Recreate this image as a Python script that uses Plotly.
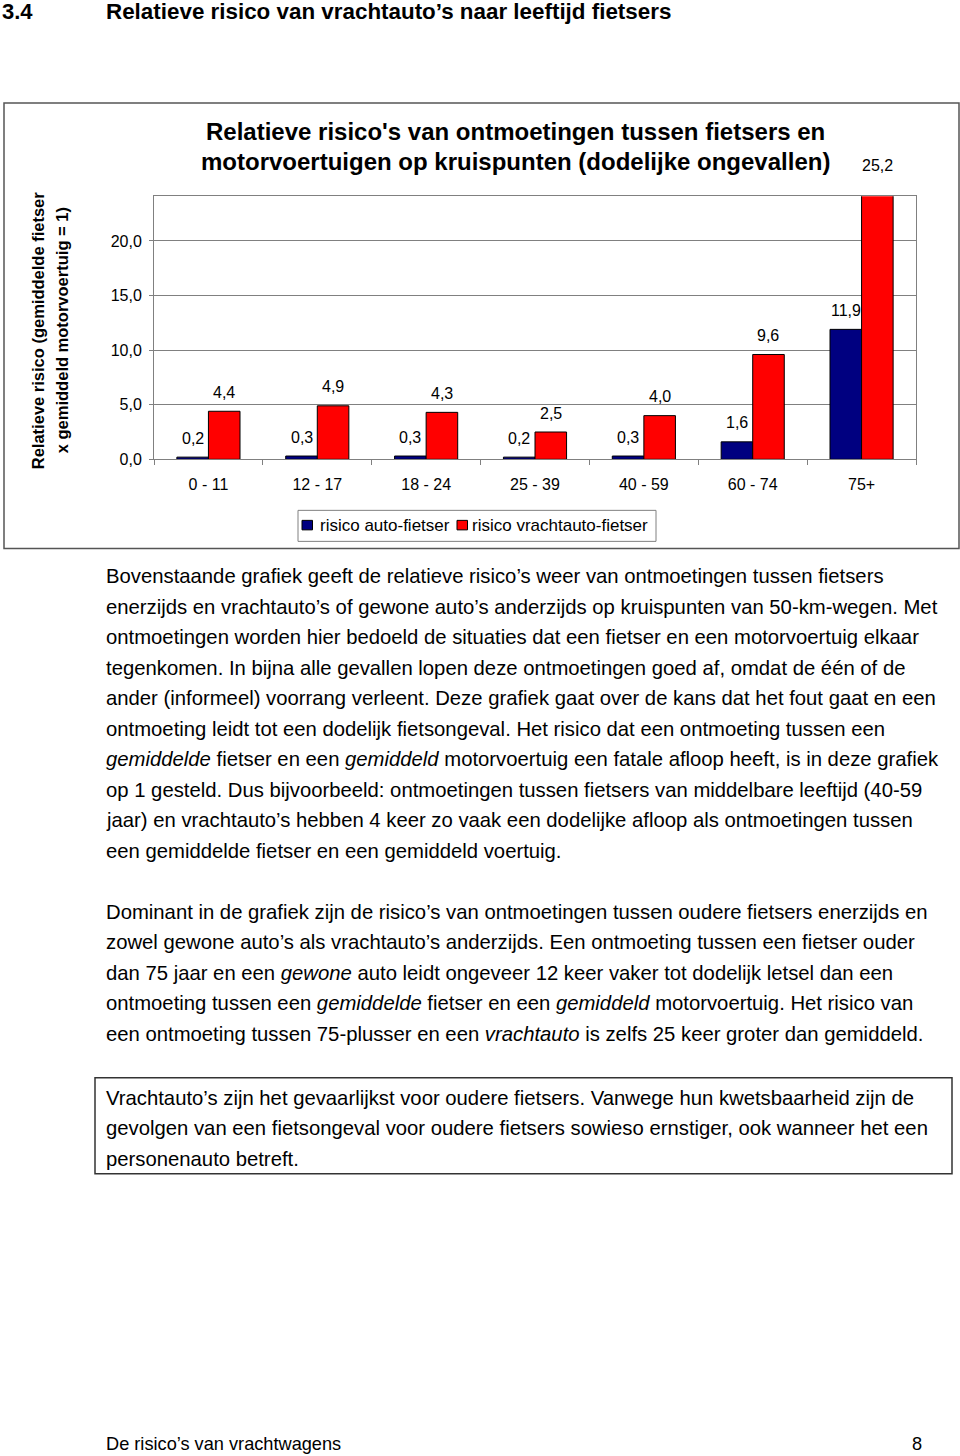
import plotly.graph_objects as go

# ---------------- data ----------------
categories = ["0 - 11", "12 - 17", "18 - 24", "25 - 39", "40 - 59", "60 - 74", "75+"]
risico_auto = [0.2, 0.3, 0.3, 0.2, 0.3, 1.6, 11.9]
risico_vracht = [4.4, 4.9, 4.3, 2.5, 4.0, 9.6, 25.2]
series_names = ["risico auto-fietser", "risico vrachtauto-fietser"]
series_colors = ["#000080", "#FF0000"]
y_tickvals = [0, 5, 10, 15, 20]

heading_num = "3.4"
heading_text = "Relatieve risico van vrachtauto’s naar leeftijd fietsers"
chart_title = ["Relatieve risico's van ontmoetingen tussen fietsers en",
               "motorvoertuigen op kruispunten (dodelijke ongevallen)"]
y_title = ["Relatieve risico (gemiddelde fietser", "x gemiddeld motorvoertuig = 1)"]

para1 = [
    "Bovenstaande grafiek geeft de relatieve risico’s weer van ontmoetingen tussen fietsers",
    "enerzijds en vrachtauto’s of gewone auto’s anderzijds op kruispunten van 50-km-wegen. Met",
    "ontmoetingen worden hier bedoeld de situaties dat een fietser en een motorvoertuig elkaar",
    "tegenkomen. In bijna alle gevallen lopen deze ontmoetingen goed af, omdat de één of de",
    "ander (informeel) voorrang verleent. Deze grafiek gaat over de kans dat het fout gaat en een",
    "ontmoeting leidt tot een dodelijk fietsongeval. Het risico dat een ontmoeting tussen een",
    "<i>gemiddelde</i> fietser en een <i>gemiddeld</i> motorvoertuig een fatale afloop heeft, is in deze grafiek",
    "op 1 gesteld. Dus bijvoorbeeld: ontmoetingen tussen fietsers van middelbare leeftijd (40-59",
    "jaar) en vrachtauto’s hebben 4 keer zo vaak een dodelijke afloop als ontmoetingen tussen",
    "een gemiddelde fietser en een gemiddeld voertuig.",
]
para2 = [
    "Dominant in de grafiek zijn de risico’s van ontmoetingen tussen oudere fietsers enerzijds en",
    "zowel gewone auto’s als vrachtauto’s anderzijds. Een ontmoeting tussen een fietser ouder",
    "dan 75 jaar en een <i>gewone</i> auto leidt ongeveer 12 keer vaker tot dodelijk letsel dan een",
    "ontmoeting tussen een <i>gemiddelde</i> fietser en een <i>gemiddeld</i> motorvoertuig. Het risico van",
    "een ontmoeting tussen 75-plusser en een <i>vrachtauto</i> is zelfs 25 keer groter dan gemiddeld.",
]
para3 = [
    "Vrachtauto’s zijn het gevaarlijkst voor oudere fietsers. Vanwege hun kwetsbaarheid zijn de",
    "gevolgen van een fietsongeval voor oudere fietsers sowieso ernstiger, ook wanneer het een",
    "personenauto betreft.",
]
footer_left = "De risico’s van vrachtwagens"
footer_right = "8"

# ---------------- layout constants ----------------
W, H = 960, 1456
H_PAPER = 1446          # effective rendered height used for paper positions
def px(x): return x / W
def py(y): return 1 - y / H_PAPER

FONT = "Liberation Sans, Arial, sans-serif"
PL, PR, PT, PB = 154, 916, 196, 459
Y2_TOP = 110            # taller helper axis (same scale) so labels above the range stay visible
YMAX = 24.1
BARGAP = 0.42
GRID = "#808080"
BODY = 20.3

fig = go.Figure()
for name, vals, col in zip(series_names, (risico_auto, risico_vracht), series_colors):
    fig.add_bar(x=categories, y=vals, name=name,
                marker=dict(color=col, line=dict(color="black", width=1)))

annotations = []
shapes = []
cat_w = (PR - PL) / len(categories)
half_bar = cat_w * (1 - BARGAP) / 4
for vals, sh in ((risico_auto, -half_bar), (risico_vracht, half_bar)):
    for c, v in zip(categories, vals):
        annotations.append(dict(x=c, y=v, xref="x", yref="y2", xshift=sh, yshift=19,
                                text=f"{v:.1f}".replace(".", ","), showarrow=False,
                                font=dict(family=FONT, size=16, color="black")))

# chart title
for i, t in enumerate(chart_title):
    annotations.append(dict(x=px(515), y=py(131 + i * 30.5), xref="paper", yref="paper",
                            text=f"<b>{t}</b>", showarrow=False, xanchor="center", yanchor="middle",
                            font=dict(family=FONT, size=24, color="black")))
# y-axis title (two rotated lines)
for i, t in enumerate(y_title):
    annotations.append(dict(x=px(38 + i * 24), y=py(330), xref="paper", yref="paper",
                            text=f"<b>{t}</b>", showarrow=False, textangle=-90,
                            xanchor="center", yanchor="middle",
                            font=dict(family=FONT, size=16.5, color="black")))
# legend (drawn as a boxed key below the chart)
LEG_X = [302, 457]
LEG_TX = [318, 470]
shapes.append(dict(type="rect", xref="paper", yref="paper", x0=px(298), x1=px(656),
                   y0=py(541), y1=py(510), line=dict(color=GRID, width=1), fillcolor="white"))
for name, col, sx, tx in zip(series_names, series_colors, LEG_X, LEG_TX):
    shapes.append(dict(type="rect", xref="paper", yref="paper", x0=px(sx), x1=px(sx + 10.5),
                       y0=py(529.5), y1=py(520), line=dict(color="black", width=1), fillcolor=col))
    annotations.append(dict(x=px(tx), y=py(525), xref="paper", yref="paper", text=name,
                            showarrow=False, xanchor="left", yanchor="middle",
                            font=dict(family=FONT, size=17, color="black")))

# page heading
annotations.append(dict(x=px(0), y=py(11.5), xref="paper", yref="paper", text=f"<b>{heading_num}</b>",
                        showarrow=False, xanchor="left", yanchor="middle",
                        font=dict(family=FONT, size=22, color="black")))
annotations.append(dict(x=px(104), y=py(11.5), xref="paper", yref="paper", text=f"<b>{heading_text}</b>",
                        showarrow=False, xanchor="left", yanchor="middle",
                        font=dict(family=FONT, size=22.4, color="black")))

def add_lines(lines, y0, step=30.45):
    for i, t in enumerate(lines):
        annotations.append(dict(x=px(104), y=py(y0 + i * step), xref="paper", yref="paper",
                                text=t, showarrow=False, xanchor="left", yanchor="middle",
                                font=dict(family=FONT, size=BODY, color="black")))

add_lines(para1, 576)
add_lines(para2, 911)
add_lines(para3, 1097)
annotations.append(dict(x=px(104), y=py(1443), xref="paper", yref="paper", text=footer_left,
                        showarrow=False, xanchor="left", yanchor="middle",
                        font=dict(family=FONT, size=18.2, color="black")))
annotations.append(dict(x=px(924), y=py(1443), xref="paper", yref="paper", text=footer_right,
                        showarrow=False, xanchor="right", yanchor="middle",
                        font=dict(family=FONT, size=18.2, color="black")))

shapes += [
    dict(type="rect", xref="paper", yref="paper", x0=px(4), x1=px(959), y0=py(548), y1=py(103),
         line=dict(color="#555555", width=1.5), layer="below"),
    dict(type="rect", xref="paper", yref="paper", x0=px(95), x1=px(952), y0=py(1173), y1=py(1077),
         line=dict(color="#333333", width=1.5)),
]

fig.update_layout(
    width=W, height=H, autosize=False,
    margin=dict(l=0, r=0, t=0, b=0),
    paper_bgcolor="white", plot_bgcolor="rgba(0,0,0,0)",
    separators=",.",
    barmode="group", bargap=BARGAP, bargroupgap=0,
    font=dict(family=FONT, size=16, color="black"),
    showlegend=False,
    xaxis=dict(domain=[px(PL), px(PR)], type="category", showgrid=False,
               showline=True, linecolor=GRID, linewidth=1, mirror=True,
               ticks="outside", tickson="boundaries", ticklen=5, tickcolor=GRID,
               ticklabelstandoff=10, tickfont=dict(size=16)),
    yaxis=dict(domain=[py(PB), py(PT)], range=[0, YMAX], tickvals=y_tickvals, tickformat=".1f",
               showgrid=True, gridcolor=GRID, gridwidth=1, zeroline=False,
               showline=True, linecolor=GRID, linewidth=1, mirror=True,
               ticks="outside", ticklen=4, tickcolor=GRID, ticklabelstandoff=4,
               tickfont=dict(size=16)),
    yaxis2=dict(domain=[py(PB), py(Y2_TOP)], anchor="x", visible=False,
                range=[0, YMAX * (PB - Y2_TOP) / (PB - PT)], showgrid=False, zeroline=False),
    annotations=annotations,
    shapes=shapes,
)

fig.write_html("out.html", config={"responsive": False})
